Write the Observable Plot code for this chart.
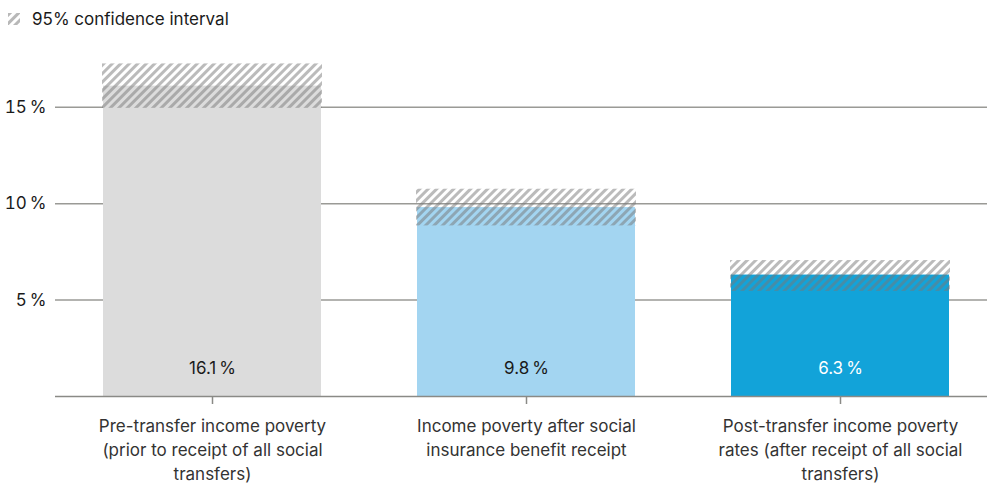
<!DOCTYPE html>
<html><head><meta charset="utf-8">
<script src="https://cdn.jsdelivr.net/npm/d3@7"></script>
<script src="https://cdn.jsdelivr.net/npm/@observablehq/plot@0.6"></script>
<style>
body{margin:0;background:#fff;font-family:Inter,"Noto Sans",sans-serif;}
#legend{height:38px;display:flex;align-items:center;padding-left:8px;font-size:17px;color:#1a1a1a;box-sizing:border-box;padding-top:0px}
#legend svg{margin-right:12px}
</style></head><body>
<div id="legend"><svg width="12" height="12"><defs><pattern id="lh" patternUnits="userSpaceOnUse" width="6" height="6" patternTransform="rotate(45)"><rect width="3" height="6" fill="#b8b8b8"/></pattern></defs><rect width="12" height="12" fill="url(#lh)"/></svg><span>95% confidence interval</span></div>
<div id="chart"></div>
<script>
const categories = ["Pre-transfer income poverty (prior to receipt of all social transfers)","Income poverty after social insurance benefit receipt","Post-transfer income poverty rates (after receipt of all social transfers)"];
const wrapped = ["Pre-transfer income poverty\n(prior to receipt of all social\ntransfers)","Income poverty after social\ninsurance benefit receipt","Post-transfer income poverty\nrates (after receipt of all social\ntransfers)"];
const values = [16.1, 9.8, 6.3];
const ciLow = [15.0, 8.9, 5.5];
const ciHigh = [17.2, 10.7, 7.0];
const colors = ["#dcdcdc", "#a3d5f1", "#12a3d9"];
const labelColors = ["#1a1a1a", "#1a1a1a", "#ffffff"];
const yTicks = [5, 10, 15];

const data = categories.map((c, i) => ({c, v: values[i], lo: ciLow[i], hi: ciHigh[i], col: colors[i], lc: labelColors[i], w: wrapped[i]}));

const chart = Plot.plot({
  width: 987, height: 446,
  marginLeft: 55, marginRight: 0, marginTop: 11, marginBottom: 88,
  style: {fontFamily: "Inter, 'Noto Sans', sans-serif", fontSize: "17px", color: "#1a1a1a"},
  x: {domain: categories, paddingInner: 0.307, paddingOuter: 0.135, align: 0.56, label: null},
  y: {domain: [0, 18], label: null},
  marks: [
    Plot.ruleY(yTicks, {stroke: "#9a9a96", strokeWidth: 1.5}),
    Plot.barY(data, {x: "c", y: "v", fill: "col"}),
    Plot.barY(data, {x: "c", y1: "lo", y2: "hi", fill: "url(#hatch)", inset: -1}),
    Plot.ruleY([0], {stroke: "#8a8a86", strokeWidth: 1.5}),
    Plot.text(data, {x: "c", y: 0, text: d => d.v.toFixed(1) + "\u2009%", fill: "lc", dy: -28, fontSize: 17}),
    Plot.axisY({ticks: yTicks, tickSize: 0, tickPadding: 9, tickFormat: d => d + "\u2009%", fontSize: 17, fill: "#1a1a1a"}),
    Plot.axisX({tickSize: 8, tickPadding: 10, stroke: "#8a8a86", strokeWidth: 1.5, tickFormat: (d, i) => wrapped[i], lineHeight: 1.42, fontSize: 17, fill: "#333", textStroke: null})
  ]
});
const defs = document.createElementNS("http://www.w3.org/2000/svg", "defs");
defs.innerHTML = '<pattern id="hatch" patternUnits="userSpaceOnUse" width="6" height="6" patternTransform="rotate(45)"><rect width="3" height="6" fill="#777" fill-opacity="0.5"/></pattern>';
chart.insertBefore(defs, chart.firstChild);
document.getElementById("chart").appendChild(chart);
</script></body></html>
